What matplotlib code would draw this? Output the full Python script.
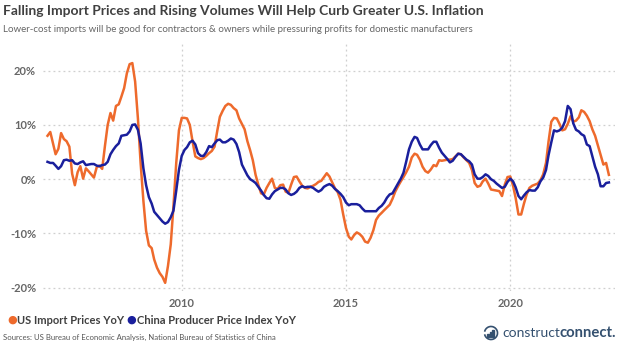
import matplotlib
matplotlib.use('Agg')
import matplotlib.pyplot as plt
from matplotlib.patches import Rectangle, Arc
import pandas as pd

# monthly, Dec 2005 .. Jan 2023
dates = pd.date_range('2005-12-01', periods=206, freq='MS')

us_import = [
    8.0,
    8.7, 6.5, 4.6, 5.6, 8.5, 7.4, 7.0, 6.0, 1.0, -1.1, 1.3, 2.4,               # 2006
    0.1, 2.0, 1.5, 0.9, 0.3, 2.2, 2.5, 1.9, 6.2, 10.0, 12.2, 10.8,             # 2007
    13.5, 13.8, 15.2, 16.8, 19.5, 21.2, 21.4, 18.0, 11.2, 3.0, -4.0, -9.5,     # 2008
    -12.2, -12.7, -14.8, -16.3, -17.3, -18.0, -19.1, -16.0, -12.0, -5.0, 3.0, 9.0,  # 2009
    11.3, 11.3, 11.2, 10.0, 7.0, 4.2, 3.9, 3.7, 3.9, 4.3, 4.8, 5.2,            # 2010
    6.0, 9.0, 11.5, 12.6, 13.5, 13.9, 13.7, 13.1, 12.7, 11.2, 10.2, 9.2,       # 2011
    7.0, 5.3, 3.5, 0.8, -1.0, -2.6, -2.8, -1.6, -0.7, 0.1, -1.6, -1.8,         # 2012
    -1.1, -1.0, -2.3, -2.5, -1.0, 0.4, 0.5, -0.4, -1.2, -1.6, -1.7, -1.4,      # 2013
    -1.2, -0.9, -0.5, -0.3, 0.4, 1.1, 0.5, -0.6, -1.7, -2.4, -3.8, -6.5,       # 2014
    -9.0, -10.6, -11.1, -10.3, -9.8, -10.1, -10.6, -11.5, -11.7, -10.8, -9.4, -7.5,  # 2015
    -6.7, -6.2, -5.7, -5.2, -4.7, -3.6, -2.3, -1.3, -0.4, 0.4, 1.3, 2.3,       # 2016
    4.0, 4.7, 4.5, 3.6, 2.3, 1.5, 1.2, 1.8, 2.6, 2.4, 3.5, 3.4,                # 2017
    3.5, 3.6, 3.6, 3.7, 4.2, 4.7, 4.6, 4.0, 3.5, 3.0, 1.7, -0.7,               # 2018
    -1.4, -1.2, -0.4, 0.1, -0.8, -1.9, -2.0, -2.1, -2.2, -3.1, -1.0, 0.4,      # 2019
    0.5, -1.2, -3.5, -6.5, -6.5, -4.5, -2.8, -1.6, -1.2, -1.0, -0.8, -0.2,     # 2020
    0.9, 3.0, 6.9, 10.6, 11.3, 11.2, 10.2, 9.0, 9.2, 10.2, 11.6, 10.6,         # 2021
    10.8, 11.4, 12.7, 12.4, 11.7, 10.7, 9.2, 8.0, 6.2, 4.4, 2.7, 3.0,          # 2022
    0.8,
]

china_ppi = [
    3.2,
    3.0, 3.0, 2.5, 1.9, 2.4, 3.5, 3.6, 3.4, 3.5, 2.9, 2.8, 3.1,
    3.3, 2.6, 2.7, 2.8, 2.8, 2.5, 2.4, 2.6, 2.7, 3.2, 4.6, 5.4,
    6.1, 6.6, 8.0, 8.1, 8.2, 8.8, 10.0, 10.1, 9.1, 6.6, 2.0, -1.1,
    -3.3, -4.5, -6.0, -6.6, -7.2, -7.8, -8.2, -7.9, -7.0, -5.8, -2.1, 1.7,
    4.3, 5.4, 5.9, 6.8, 7.1, 6.4, 4.8, 4.3, 4.3, 5.0, 6.1, 5.9,
    6.6, 7.2, 7.3, 6.8, 6.8, 7.1, 7.5, 7.3, 6.5, 5.0, 2.7, 1.7,
    0.7, 0.0, -0.3, -0.7, -1.4, -2.1, -2.9, -3.5, -3.6, -2.8, -2.2, -1.9,
    -1.6, -1.6, -1.9, -2.6, -2.9, -2.7, -2.3, -1.6, -1.3, -1.5, -1.4, -1.4,
    -1.6, -2.0, -2.3, -2.0, -1.4, -1.1, -0.9, -1.2, -1.8, -2.2, -2.7, -3.3,
    -4.3, -4.8, -4.6, -4.6, -4.6, -4.8, -5.4, -5.9, -5.9, -5.9, -5.9, -5.9,
    -5.3, -4.9, -4.3, -3.4, -2.8, -2.6, -1.7, -0.8, 0.1, 1.2, 3.3, 5.5,
    6.9, 7.8, 7.6, 6.4, 5.5, 5.5, 5.5, 6.3, 6.9, 6.9, 5.8, 4.9,
    4.3, 3.7, 3.1, 3.4, 4.1, 4.7, 4.6, 4.1, 3.6, 3.3, 2.7, 0.9,
    0.1, 0.1, 0.4, 0.9, 0.6, 0.0, -0.3, -0.8, -1.2, -1.6, -1.4, -0.5,
    0.1, -0.4, -1.5, -3.1, -3.7, -3.0, -2.4, -2.0, -2.1, -2.1, -1.5, -0.4,
    0.3, 1.7, 4.4, 6.8, 9.0, 8.8, 9.0, 9.5, 10.7, 13.5, 12.9, 10.3,
    9.1, 8.8, 8.3, 8.0, 6.4, 6.1, 4.2, 2.3, 0.9, -1.3, -1.3, -0.7,
    -0.6,
]

year_ticks = ['2010', '2015', '2020']
pct_ticks = [-20, -10, 0, 10, 20]

ORANGE = '#ee6a2c'
BLUE = '#1a1f9c'
TXT = '#404040'
GREY = '#666666'
LOGO = '#34506f'
FONT = 'Lato'

W, H = 624, 345
fig = plt.figure(figsize=(W / 100, H / 100), dpi=100)
fig.patch.set_facecolor('white')


def fx(px):
    return px / W


def fy(py):
    return 1 - py / H


def put(x0, x1, y, s, size, **kw):
    # place text starting at pixel x0 and shrink/grow it so it ends near x1
    t = fig.text(fx(x0), fy(y), s, fontsize=size, family=FONT, va='center', ha='left', **kw)
    fig.canvas.draw()
    w = t.get_window_extent().width
    t.set_fontsize(size * (x1 - x0) / w)
    return t


ax = fig.add_axes([fx(43), fy(291), fx(615) - fx(43), fy(43) - fy(291)])
ax.plot(dates, us_import, color=ORANGE, lw=1.8, solid_joinstyle='round')
ax.plot(dates, china_ppi, color=BLUE, lw=1.8, solid_joinstyle='round')

ax.set_xlim(pd.Timestamp('2005-10-12'), pd.Timestamp('2023-03-10'))
ax.set_ylim(-20.6, 25.1)
ax.set_xticks([pd.Timestamp(y + '-01-01') for y in year_ticks])
ax.set_xticklabels(year_ticks)
ax.set_yticks(pct_ticks)
ax.set_yticklabels(['{}%'.format(v) for v in pct_ticks])
ax.tick_params(length=0, labelsize=8, labelcolor=GREY, pad=5)
for lab in ax.get_xticklabels() + ax.get_yticklabels():
    lab.set_fontweight('bold')
    lab.set_family(FONT)
ax.grid(True, color='#cfcfcf', ls=(0, (1.5, 2.5)), lw=0.9)
ax.set_axisbelow(True)
for s in ax.spines.values():
    s.set_visible(False)

# titles
put(3, 480, 11, 'Falling Import Prices and Rising Volumes Will Help Curb Greater U.S. Inflation',
    11, fontweight='bold', color=TXT)
put(3, 480, 29, 'Lower-cost imports will be good for contractors & owners while pressuring profits for domestic manufacturers',
    8, color=GREY)

# legend
fig.text(fx(12), fy(320), '●', color=ORANGE, fontsize=8, va='center', ha='center')
put(17, 124, 320, 'US Import Prices YoY', 9, fontweight='bold', color=TXT)
fig.text(fx(131), fy(320), '●', color=BLUE, fontsize=8, va='center', ha='center')
put(137, 298, 320, 'China Producer Price Index YoY', 9, fontweight='bold', color=TXT)

put(3, 275, 337, 'Sources: US Bureau of Economic Analysis, National Bureau of Statistics of China',
    6.5, color='#555555')

# logo
t1 = put(502, 560, 333, 'construct', 10, color=LOGO)
fig.canvas.draw()
bb = t1.get_window_extent()
put(bb.x1, 617, 333, 'connect.', 10, fontweight='bold', color=LOGO)
fig.add_artist(Arc((fx(491), fy(333)), fx(13), fy(320) - fy(333), theta1=200, theta2=520,
                   color=LOGO, lw=1.2, transform=fig.transFigure))
for i, h in enumerate([3, 5, 7]):
    fig.add_artist(Rectangle((fx(487 + i * 2.6), fy(337)), fx(1.6), fy(337 - h) - fy(337),
                             color=LOGO, transform=fig.transFigure))

fig.savefig('out.png', dpi=100)
